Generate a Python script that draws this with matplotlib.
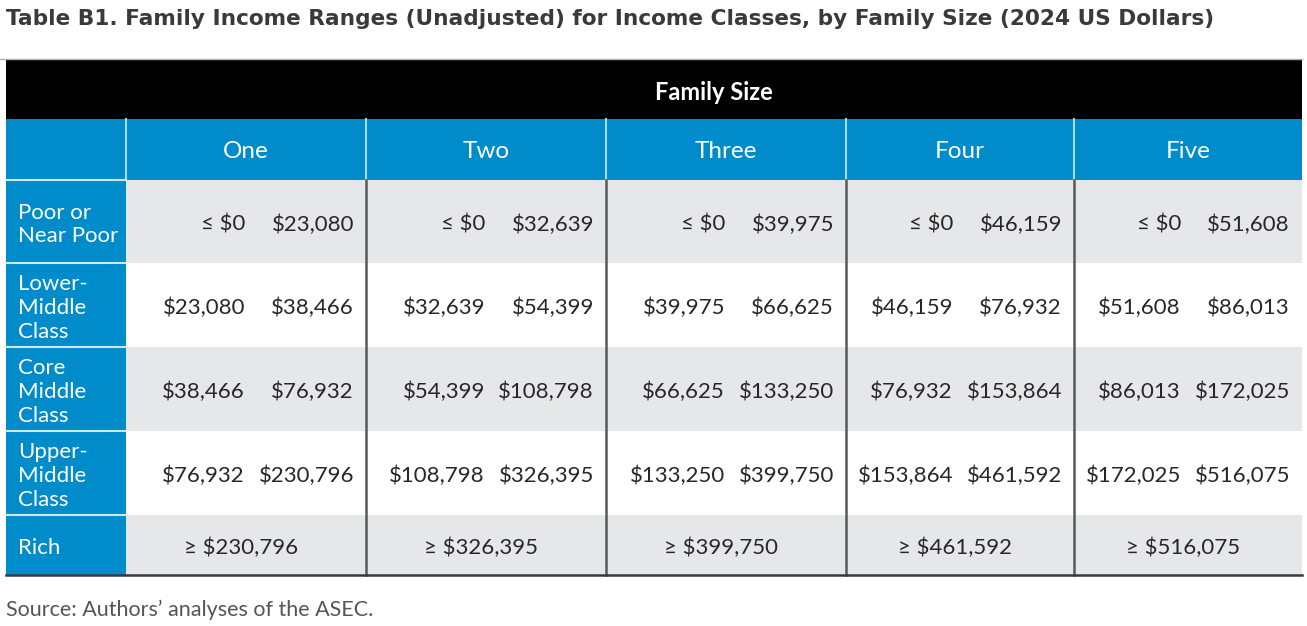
import matplotlib.pyplot as plt
from matplotlib.patches import Rectangle

# data
family_sizes = ["One", "Two", "Three", "Four", "Five"]
class_labels = ["Poor or\nNear Poor", "Lower-\nMiddle\nClass", "Core\nMiddle\nClass",
                "Upper-\nMiddle\nClass", "Rich"]
poor_max = [23080, 32639, 39975, 46159, 51608]
lower_middle_max = [38466, 54399, 66625, 76932, 86013]
core_middle_max = [76932, 108798, 133250, 153864, 172025]
upper_middle_max = [230796, 326395, 399750, 461592, 516075]

title = "Table B1. Family Income Ranges (Unadjusted) for Income Classes, by Family Size (2024 US Dollars)"
source = "Source: Authors\u2019 analyses of the ASEC."

BLUE = "#008BCB"
GRAY = "#E6E7E8"
TXT = "#2A2627"
FONT = "Lato"

def money(v):
    return "${:,}".format(v)

# layout (pixels)
col_edges = [6, 126, 366, 606, 846, 1074, 1302]
row_edges = [180, 263, 347, 431, 515, 575]
top_black = 60
top_blue = 119

fig = plt.figure(figsize=(13.07, 6.26), dpi=100)
ax = fig.add_axes([0, 0, 1, 1])
ax.set_xlim(0, 1307)
ax.set_ylim(626, 0)
ax.axis("off")

fig.text(6 / 1307, 1 - 19 / 626, title, fontsize=15.6, fontweight="bold",
         color="#3A3A3A", family="DejaVu Sans", va="center", ha="left")

# black header
ax.plot([0, 1302], [59, 59], color="#B0B0B0", lw=1)
ax.add_patch(Rectangle((6, top_black), 1296, top_blue - top_black, color="black", lw=0))
ax.text((col_edges[1] + col_edges[-1]) / 2, (top_black + top_blue) / 2 + 3, "Family Size",
        color="white", fontsize=17, fontweight="bold", family=FONT, ha="center", va="center")

# blue header row
ax.add_patch(Rectangle((6, top_blue), 1296, row_edges[0] - top_blue, color=BLUE, lw=0))
for i, name in enumerate(family_sizes):
    x0, x1 = col_edges[i + 1], col_edges[i + 2]
    ax.text((x0 + x1) / 2, (top_blue + row_edges[0]) / 2 + 2, name, color="white",
            fontsize=17.5, family=FONT, ha="center", va="center")
for x in col_edges[1:-1]:
    ax.plot([x, x], [top_blue, row_edges[0]], color="#A8D8F0", lw=1.5)

# body rows
rows_lo = [[0] * 5, poor_max, lower_middle_max, core_middle_max, upper_middle_max]
rows_hi = [poor_max, lower_middle_max, core_middle_max, upper_middle_max, None]
for r, label in enumerate(class_labels):
    y0, y1 = row_edges[r], row_edges[r + 1]
    ym = (y0 + y1) / 2 + 3
    fill = GRAY if r % 2 == 0 else "white"
    ax.add_patch(Rectangle((col_edges[1], y0), col_edges[-1] - col_edges[1], y1 - y0,
                           color=fill, lw=0))
    ax.add_patch(Rectangle((col_edges[0], y0), col_edges[1] - col_edges[0], y1 - y0,
                           color=BLUE, lw=0))
    ax.text(18, ym, label, color="white", fontsize=16, family=FONT,
            ha="left", va="center", linespacing=1.22)
    for c in range(5):
        x0, x1 = col_edges[c + 1], col_edges[c + 2]
        if rows_hi[r] is None:
            ax.text((x0 + x1) / 2 - 5, ym, "\u2265 " + money(rows_lo[r][c]), color=TXT,
                    fontsize=16, family=FONT, ha="center", va="center")
            continue
        lo = "\u2264 $0" if rows_lo[r][c] == 0 else money(rows_lo[r][c])
        ax.text(x1 - 121, ym, lo, color=TXT, fontsize=16, family=FONT,
                ha="right", va="center")
        ax.text(x1 - 12, ym, money(rows_hi[r][c]), color=TXT, fontsize=16,
                family=FONT, ha="right", va="center")

# separators
for y in row_edges[:-1]:
    ax.plot([col_edges[0], col_edges[1]], [y, y], color="#CFE8F5", lw=1.5)
for x in col_edges[2:-1]:
    ax.plot([x, x], [row_edges[0], row_edges[-1]], color="#58595B", lw=1.8)
ax.plot([col_edges[0], col_edges[-1]], [row_edges[-1], row_edges[-1]], color="#3A3A3A", lw=1.8)

fig.text(6 / 1307, 1 - 610 / 626, source, fontsize=15.5, color="#555555", family=FONT,
         va="center", ha="left")

fig.savefig("out.png", dpi=100)
